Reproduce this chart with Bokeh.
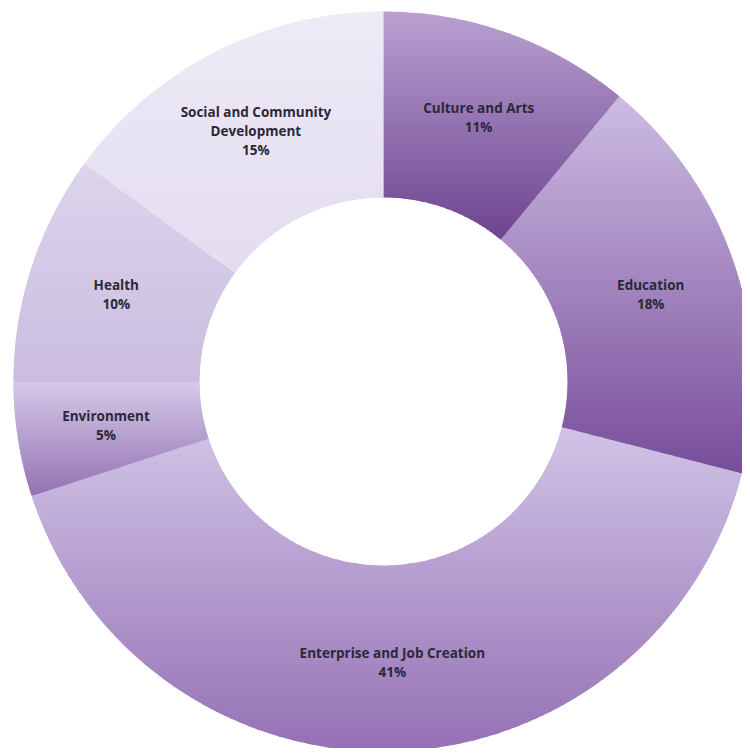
import numpy as np
from bokeh.plotting import figure
from bokeh.models import Range1d, ColumnDataSource
from bokeh.embed import file_html
from bokeh.resources import INLINE
from bokeh.core.properties import value

# ---- data ----
categories = ["Culture and Arts", "Education", "Enterprise and Job Creation",
              "Environment", "Health", "Social and Community Development"]
label_names = ["Culture and Arts", "Education", "Enterprise and Job Creation",
               "Environment", "Health", "Social and Community\nDevelopment"]
shares = [11, 18, 41, 5, 10, 15]

# ---- style: vertical gradient (top colour -> bottom colour) per slice ----
top_colors = ["#b9a1d1", "#cdbde2", "#d1c4e6", "#d6cae8", "#dcd4ec", "#eeeaf6"]
bottom_colors = ["#6d4490", "#784d9b", "#9571b5", "#9473b2", "#cabddf", "#e3ddf0"]

R_IN, R_OUT = 184.0, 370.0
N_BANDS = 90


def hex2rgb(h):
    h = h.lstrip("#")
    return np.array([int(h[i:i + 2], 16) for i in (0, 2, 4)], dtype=float)


def rgb2hex(c):
    c = np.clip(np.round(c), 0, 255).astype(int)
    return "#%02x%02x%02x" % tuple(c)


def intersect(a, b, yc):
    t = (yc - a[1]) / (b[1] - a[1])
    return (a[0] + t * (b[0] - a[0]), yc)


def clip_half(poly, yc, keep_below):
    out = []
    n = len(poly)
    for i in range(n):
        cur = poly[i]
        prev = poly[i - 1]
        cin = cur[1] <= yc if keep_below else cur[1] >= yc
        pin = prev[1] <= yc if keep_below else prev[1] >= yc
        if cin:
            if not pin:
                out.append(intersect(prev, cur, yc))
            out.append(cur)
        elif pin:
            out.append(intersect(prev, cur, yc))
    return out


W, H = 742, 748
p = figure(width=W, height=H, output_backend="svg", toolbar_location=None,
           x_range=Range1d(-383, 359), y_range=Range1d(-367, 381),
           min_border=0)
p.axis.visible = False
p.grid.visible = False
p.outline_line_color = None
p.background_fill_color = "white"
p.border_fill_color = "white"

# underlay ring (hides hairline seams between gradient bands)
p.annulus(x=0, y=0, inner_radius=R_IN + 0.5, outer_radius=R_OUT - 0.5,
          fill_color="#b49ccf", line_color=None)

fracs = np.array(shares, dtype=float) / np.sum(shares)
cum_end = np.cumsum(fracs)
cum_start = cum_end - fracs

xs_all, ys_all, col_all = [], [], []
lab_x, lab_y, lab_t = [], [], []
for i in range(len(shares)):
    a0 = np.pi / 2 - cum_start[i] * 2 * np.pi
    a1 = np.pi / 2 - cum_end[i] * 2 * np.pi
    n = max(int(abs(a0 - a1) / np.radians(0.5)), 8)
    ang = np.linspace(a0, a1, n)
    outer = [(R_OUT * np.cos(a), R_OUT * np.sin(a)) for a in ang]
    inner = [(R_IN * np.cos(a), R_IN * np.sin(a)) for a in ang[::-1]]
    poly = outer + inner
    ys = [q[1] for q in poly]
    ytop, ybot = max(ys), min(ys)
    c_top, c_bot = hex2rgb(top_colors[i]), hex2rgb(bottom_colors[i])
    edges = np.linspace(ytop, ybot, N_BANDS + 1)
    for b in range(N_BANDS):
        y_hi = edges[b] + (1.0 if b > 0 else 0.0)
        y_lo = edges[b + 1]
        piece = clip_half(poly, y_hi, keep_below=True)
        if len(piece) < 3:
            continue
        piece = clip_half(piece, y_lo, keep_below=False)
        if len(piece) < 3:
            continue
        t = (b + 0.5) / N_BANDS
        xs_all.append([q[0] for q in piece])
        ys_all.append([q[1] for q in piece])
        col_all.append(rgb2hex(c_top + (c_bot - c_top) * t))
    mid = (a0 + a1) / 2
    r_lab = (R_IN + R_OUT) / 2 + 4
    lab_x.append(r_lab * np.cos(mid))
    lab_y.append(r_lab * np.sin(mid))
    lab_t.append(f"{label_names[i]}\n{shares[i]}%")

src = ColumnDataSource(dict(xs=xs_all, ys=ys_all, color=col_all))
p.patches(xs="xs", ys="ys", fill_color="color", line_color=None, source=src)

lsrc = ColumnDataSource(dict(x=lab_x, y=lab_y, text=lab_t))
p.text(x="x", y="y", text="text", source=lsrc, text_align="center",
       text_baseline="middle", text_font=value("Open Sans"),
       text_font_style="bold", text_font_size="13.5px",
       text_color="#2b2838", text_line_height=1.06)

open("out.html", "w").write(file_html(p, INLINE))
